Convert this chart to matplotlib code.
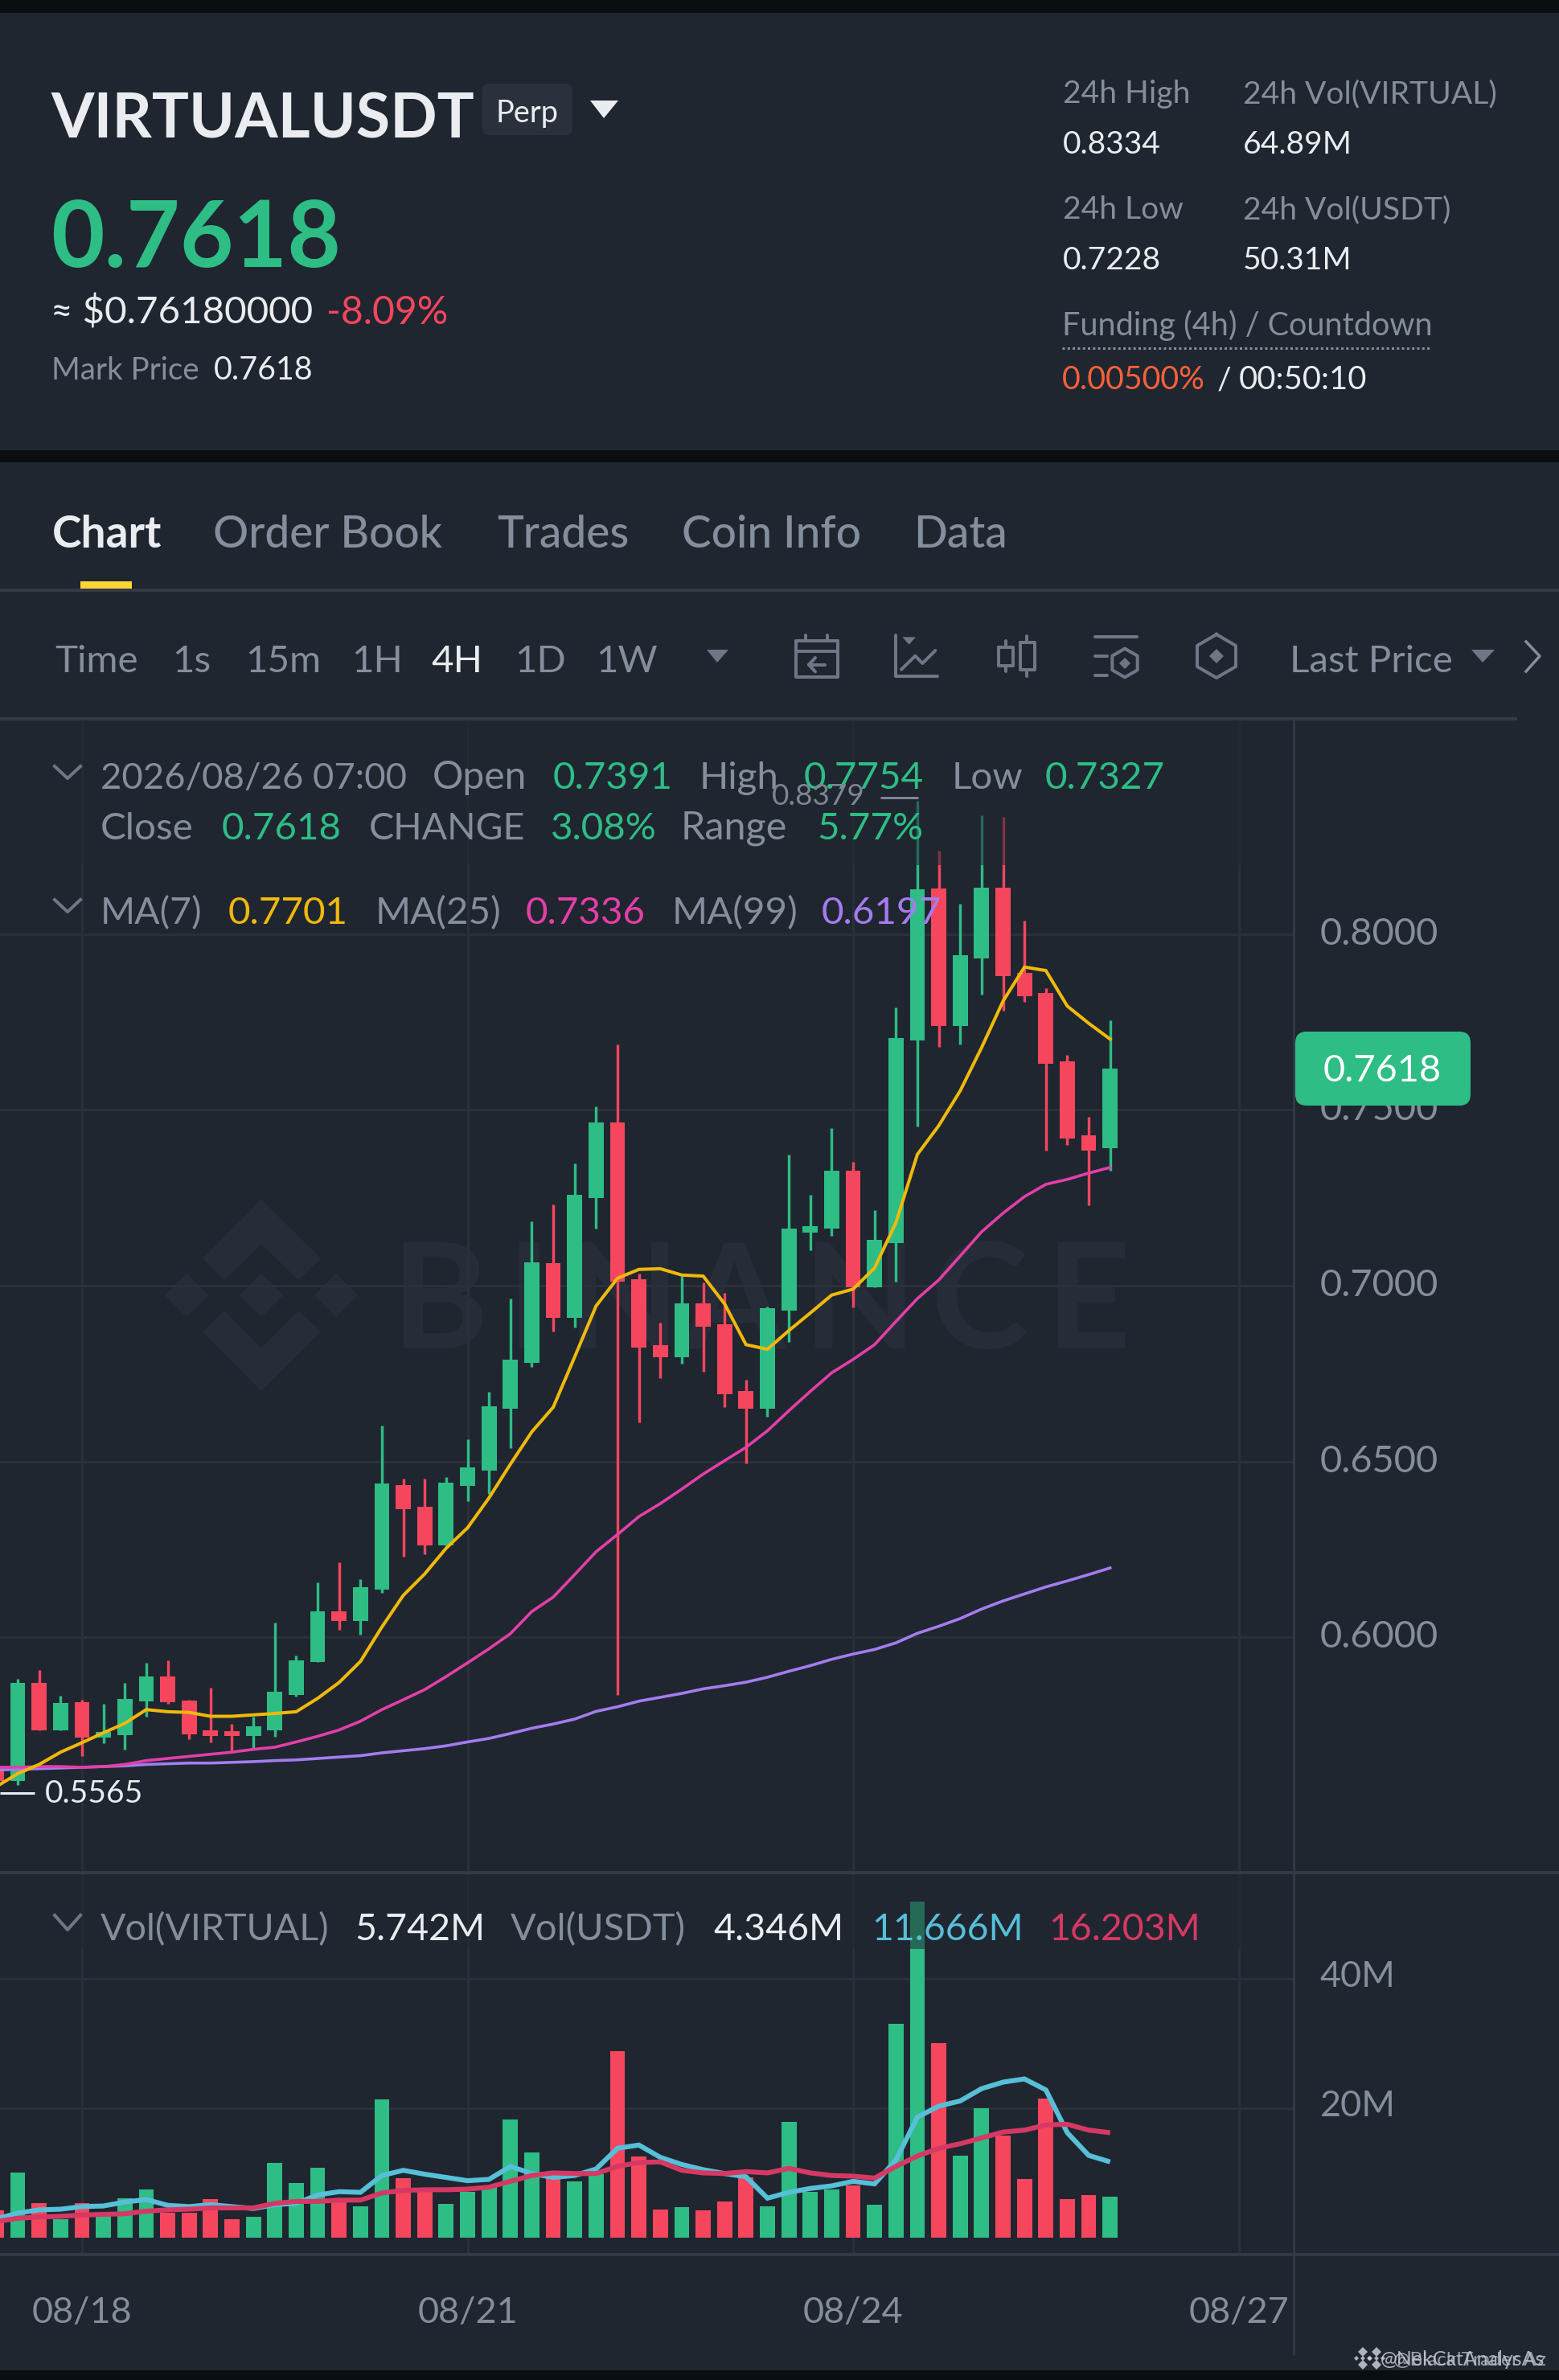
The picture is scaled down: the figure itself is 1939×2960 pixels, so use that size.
import matplotlib
matplotlib.use("Agg")
import matplotlib.pyplot as plt
from matplotlib.patches import Rectangle, FancyBboxPatch, Polygon
from matplotlib.transforms import ScaledTranslation

plt.rcParams['font.family'] = ['Lato', 'DejaVu Sans']

# ---------- data ----------
candle_index = list(range(-4, 49))
opens = [.5630, .5591, .5871, .5736, .5814, .5714, .5722, .5818, .5888, .5820, .5735, .5733, .5720, .5736, .5835,
         .5929, .6074, .6045, .6135, .6433, .6370, .6260, .6431, .6474, .6650, .6780, .7064, .6909, .7250, .7465,
         .7019, .6831, .6797, .6949, .6891, .6700, .6650, .6928, .7151, .7161, .7327, .6996, .7122, .7697, .8129,
         .7739, .7931, .8132, .7889, .7832, .7638, .7428, .7391]
highs = [.5650, .5882, .5906, .5833, .5822, .5810, .5869, .5927, .5935, .5822, .5857, .5753, .5773, .6041, .5947,
         .6157, .6213, .6164, .6601, .6450, .6450, .6456, .6564, .6699, .6964, .7183, .7230, .7348, .7510, .7685,
         .7035, .6894, .7027, .7010, .6980, .6733, .6941, .7373, .7258, .7447, .7352, .7214, .7792, .8379, .8238,
         .8087, .8337, .8332, .8037, .7845, .7656, .7481, .7754]
lows = [.5565, .5579, .5736, .5736, .5663, .5698, .5681, .5773, .5810, .5710, .5700, .5677, .5685, .5716, .5830,
        .5929, .6020, .6008, .6125, .6229, .6235, .6260, .6386, .6407, .6537, .6768, .6870, .6880, .7162, .5835,
        .6611, .6736, .6779, .6754, .6655, .6494, .6627, .6840, .7100, .7141, .6939, .6996, .7011, .7452, .7680,
        .7686, .7828, .7781, .7807, .7385, .7401, .7228, .7327]
closes = [.5590, .5871, .5736, .5812, .5714, .5730, .5824, .5888, .5814, .5724, .5718, .5718, .5747, .5845, .5935,
          .6074, .6045, .6143, .6437, .6364, .6260, .6439, .6482, .6656, .6789, .7066, .6909, .7258, .7463, .7011,
          .6823, .6797, .6950, .6884, .6692, .6649, .6935, .7163, .7168, .7327, .6996, .7129, .7705, .8128, .7739,
          .7939, .8131, .7881, .7823, .7630, .7418, .7385, .7618]
ma7 = [.5575, .5612, .5638, .5673, .5700, .5728, .5755, .5794, .5788, .5786, .5775, .5775, .5779, .5783, .5788,
       .5826, .5871, .5931, .6029, .6119, .6180, .6253, .6311, .6396, .6492, .6584, .6654, .6797, .6942, .7021,
       .7046, .7048, .7030, .7027, .6948, .6832, .6819, .6872, .6922, .6973, .6990, .7050, .7179, .7373, .7455,
       .7554, .7677, .7809, .7906, .7896, .7795, .7746, .7701]
ma25 = [.5630, .5630, .5632, .5632, .5630, .5632, .5638, .5649, .5655, .5661, .5667, .5673, .5681, .5687, .5702,
        .5718, .5736, .5761, .5794, .5822, .5851, .5888, .5927, .5967, .6010, .6073, .6114, .6178, .6243, .6292,
        .6343, .6380, .6421, .6464, .6502, .6540, .6587, .6644, .6699, .6752, .6790, .6832, .6898, .6963, .7016,
        .7084, .7153, .7206, .7253, .7288, .7302, .7320, .7336]
ma99 = [.5622, .5624, .5626, .5628, .5630, .5632, .5634, .5638, .5640, .5642, .5642, .5644, .5646, .5649, .5651,
        .5655, .5659, .5663, .5671, .5677, .5683, .5691, .5702, .5712, .5726, .5741, .5753, .5767, .5789, .5802,
        .5818, .5829, .5840, .5853, .5862, .5872, .5886, .5903, .5919, .5937, .5952, .5965, .5984, .6011, .6031,
        .6053, .6080, .6103, .6123, .6143, .6160, .6178, .6197]
volume = [4.2, 10.0, 5.4, 2.9, 5.4, 3.4, 6.1, 7.5, 3.9, 3.9, 5.9, 2.9, 3.2, 11.5, 8.4, 10.8, 5.9, 4.8, 21.4, 9.2,
          7.1, 5.2, 7.1, 7.8, 18.2, 13.1, 9.3, 8.7, 9.8, 28.8, 12.5, 4.4, 4.7, 4.2, 5.6, 9.3, 4.9, 17.9, 7.1, 7.4,
          8.1, 5.1, 33.0, 51.8, 30.0, 12.6, 20.0, 15.7, 9.0, 21.5, 6.0, 6.6, 6.3]
vol_ma_a = [2.9, 3.8, 4.3, 4.4, 4.8, 4.9, 5.5, 5.9, 5.0, 4.8, 5.1, 4.8, 4.5, 5.1, 5.3, 6.6, 7.1, 7.0, 9.6, 10.4,
            9.8, 9.3, 8.8, 9.0, 11.0, 9.9, 9.3, 9.6, 10.6, 13.8, 14.3, 12.4, 11.3, 10.5, 9.9, 9.4, 6.1, 7.0, 7.6,
            8.0, 8.7, 8.3, 12.0, 18.6, 20.3, 21.1, 23.0, 24.0, 24.5, 22.8, 16.2, 12.7, 11.7]
vol_ma_b = [2.5, 3.0, 3.2, 3.3, 3.5, 3.6, 3.7, 4.1, 4.3, 4.4, 4.6, 4.6, 4.6, 5.3, 5.6, 5.6, 5.8, 5.8, 6.9, 7.3,
            7.4, 7.4, 7.5, 7.8, 8.7, 9.6, 10.0, 9.9, 9.9, 11.0, 11.6, 11.7, 10.4, 10.0, 9.9, 10.2, 10.0, 10.7, 10.0,
            9.6, 9.5, 9.2, 11.0, 12.6, 13.8, 14.5, 15.4, 16.3, 16.6, 17.4, 17.5, 16.6, 16.2]
price_ticks = [0.60, 0.65, 0.70, 0.75, 0.80]
volume_ticks = [20, 40]
date_index = [0, 18, 36, 54]
date_labels = ['08/18', '08/21', '08/24', '08/27']

# ---------- style ----------
W, H = 1940, 2960
BLACK = '#0b0e11'
BG = '#1f2630'
GRID = '#2a303b'
SEP = '#333945'
GREEN = '#2ebd85'
RED = '#f6465d'
GREY = '#848e9c'
WHITE = '#eaecef'
YEL = '#f0b90b'
MAG = '#e33fa8'
PUR = '#a57cf0'
VBLUE = '#57bfd8'
VRED = '#d63864'
ICON = '#707686'
WM = '#272d38'
PX = 72 / 100  # points per pixel at dpi 100

fig = plt.figure(figsize=(W / 100, H / 100), dpi=100, facecolor=BLACK)


def full_axes(z):
    a = fig.add_axes([0, 0, 1, 1], zorder=z)
    a.set_xlim(0, W)
    a.set_ylim(H, 0)
    a.axis('off')
    a.patch.set_alpha(0)
    return a


back = full_axes(0)
fore = full_axes(10)


def T(x, y, s, em, color=GREY, weight='normal', ax=fore, ha='left', alpha=None):
    ax.text(x, y, s, fontsize=em * PX, color=color, fontweight=weight, ha=ha, va='baseline', alpha=alpha)


back.add_patch(Rectangle((0, 16), W, 544, fc=BG, ec='none'))
back.add_patch(Rectangle((0, 575), W, 2373, fc=BG, ec='none'))


def pane(top, bottom):
    return fig.add_axes([0, (H - bottom) / H, 1609 / W, (bottom - top) / H], zorder=5, facecolor='none')


ax = pane(894, 2330)
vx = pane(2330, 2804)
x0, xs = 102.0, 26.64
for a in (ax, vx):
    a.set_xlim(-x0 / xs, (1609 - x0) / xs)
    for s in a.spines.values():
        s.set_visible(False)
    a.set_axisbelow(True)
    a.grid(True, color=GRID, lw=3 * PX)
ax.set_ylim(0.5328, 0.8612)
vx.set_ylim(-2.6, 56.2)

# watermark
wm_top = [(325, 1492), (399, 1565), (371, 1592), (325, 1547), (279, 1592), (252, 1565)]
wm_bot = [(325, 1730), (399, 1656), (371, 1630), (325, 1677), (279, 1630), (252, 1656)]
back.add_patch(Polygon(wm_top, fc=WM, ec='none'))
back.add_patch(Polygon(wm_bot, fc=WM, ec='none'))
for cx in (232, 325, 418):
    back.add_patch(Polygon([(cx, 1584), (cx + 27, 1611), (cx, 1638), (cx - 27, 1611)], fc=WM, ec='none'))
for lx, ch in [(486, 'B'), (630, 'I'), (704, 'N'), (850, 'A'), (998, 'N'), (1158, 'C'), (1300, 'E')]:
    T(lx, 1677, ch, 183, WM, 'bold', ax=back)

# candles
cols = [GREEN if c >= o else RED for o, c in zip(opens, closes)]
ax.vlines(candle_index, lows, highs, colors=cols, lw=3.4 * PX, zorder=3)
ax.bar(candle_index, [abs(c - o) for o, c in zip(opens, closes)], bottom=[min(o, c) for o, c in zip(opens, closes)],
       width=0.705, color=cols, linewidth=0, zorder=4)
ax.plot(candle_index, ma99, color=PUR, lw=2.6, zorder=5, solid_joinstyle='miter')
ax.plot(candle_index, ma25, color=MAG, lw=2.6, zorder=6, solid_joinstyle='miter')
ax.plot(candle_index, ma7, color=YEL, lw=2.9, zorder=7, solid_joinstyle='miter')
ax.set_yticks(price_ticks)
ax.set_yticklabels([f'{v:.4f}' for v in price_ticks])
ax.yaxis.tick_right()
ax.tick_params(axis='y', length=0, pad=33 * PX, labelsize=47 * PX, labelcolor=GREY)
ax.set_xticks(date_index)
ax.tick_params(axis='x', length=0, labelbottom=False)

# volume
vx.bar(candle_index, volume, width=0.705, color=cols, linewidth=0, zorder=3)
vx.plot(candle_index, vol_ma_a, color=VBLUE, lw=4.4, zorder=4, solid_joinstyle='miter', solid_capstyle='butt')
vx.plot(candle_index, vol_ma_b, color=VRED, lw=4.4, zorder=5, solid_joinstyle='miter', solid_capstyle='butt')
vx.set_yticks(volume_ticks)
vx.set_yticklabels([f'{v}M' for v in volume_ticks])
vx.yaxis.tick_right()
vx.tick_params(axis='y', length=0, pad=33 * PX, labelsize=45 * PX, labelcolor=GREY)
vx.set_xticks(date_index)
vx.set_xticklabels(date_labels)
vx.tick_params(axis='x', length=0, pad=52 * PX, labelsize=45 * PX, labelcolor=GREY)

# the reference's axis labels sit a few pixels above their gridlines
for a, dy in ((ax, 4), (vx, 6)):
    for lab in a.get_yticklabels():
        lab.set_transform(lab.get_transform() + ScaledTranslation(0, dy / 100, fig.dpi_scale_trans))

# legend backdrops dim what is under them
fore.add_patch(Rectangle((0, 896), 1548, 180, fc=BG, ec='none', alpha=0.55))
fore.add_patch(Rectangle((0, 2332), 1548, 92, fc=BG, ec='none', alpha=0.55))

# separators
fore.plot([0, 1887], [894, 894], color=SEP, lw=4 * PX, solid_capstyle='butt')
fore.plot([0, W], [2329, 2329], color=SEP, lw=4 * PX, solid_capstyle='butt')
fore.plot([0, W], [2804, 2804], color=SEP, lw=4 * PX, solid_capstyle='butt')
fore.plot([1609, 1609], [894, 2929], color=SEP, lw=3 * PX, solid_capstyle='butt')
fore.plot([0, W], [734, 734], color=SEP, lw=4 * PX, solid_capstyle='butt')
fore.add_patch(Rectangle((100, 723), 64, 13, fc='#fcd535', ec='none'))

# header
T(63, 172, 'VIRTUALUSDT', 77, WHITE, 'bold')
fore.add_patch(FancyBboxPatch((606, 110), 100, 52, boxstyle='round,pad=6,rounding_size=8', fc='#2b313c', ec='none'))
T(617, 152, 'Perp', 38, WHITE)
fore.add_patch(Polygon([(734, 125), (769, 125), (751, 147)], fc=WHITE, ec='none', joinstyle='round'))
T(63, 332, '0.7618', 115, GREEN, 'bold')
T(63, 403, '≈ $0.76180000', 47.5, WHITE)
T(406, 403, '-8.09%', 48, RED)
T(64, 472, 'Mark Price', 38.5, GREY)
T(266, 472, '0.7618', 39.5, WHITE)

HDR = 39
T(1322, 128, '24h High', HDR)
T(1546, 128, '24h Vol(VIRTUAL)', HDR)
T(1322, 191, '0.8334', HDR, WHITE)
T(1546, 191, '64.89M', HDR, WHITE)
T(1322, 272, '24h Low', HDR)
T(1546, 272, '24h Vol(USDT)', HDR)
T(1322, 335, '0.7228', HDR, WHITE)
T(1546, 335, '50.31M', HDR, WHITE)
T(1321, 417, 'Funding (4h) / Countdown', 39.6)
fore.plot([1321, 1779], [433, 433], color=GREY, lw=3 * PX, dashes=(1, 1.1))
T(1321, 484, '0.00500%', 39.5, '#f6613a')
T(1514, 484, '/', 39, WHITE)
T(1541, 484, '00:50:10', 40, WHITE)

# tabs
for x, s, c in [(65, 'Chart', WHITE), (265, 'Order Book', GREY), (618, 'Trades', GREY),
                (848, 'Coin Info', GREY), (1136, 'Data', GREY)]:
    T(x, 681, s, 55, c, 'bold' if s == 'Chart' else 'medium')

# toolbar
for x, s, c in [(68, 'Time', GREY), (214, '1s', GREY), (305, '15m', GREY), (437, '1H', GREY), (536, '4H', WHITE),
                (640, '1D', GREY), (741, '1W', GREY), (1604, 'Last Price', GREY)]:
    T(x, 836, s, 47.5, c)
fore.add_patch(Polygon([(879, 808), (906, 808), (892, 824)], fc=ICON, ec='none'))
fore.add_patch(Polygon([(1830, 808), (1859, 808), (1844, 824)], fc=ICON, ec='none'))
fore.plot([1898, 1915, 1898], [798, 816, 835], color=GREY, lw=3.5 * PX)


def ipx(x, y):
    return 950 + x / 3, 760 + y / 3


def iline(pts, lw=4):
    xy = [ipx(*p) for p in pts]
    fore.plot([p[0] for p in xy], [p[1] for p in xy], color=ICON, lw=lw * PX, solid_capstyle='round',
              solid_joinstyle='round')


iline([(120, 112), (276, 112), (276, 246), (120, 246), (120, 112)])
iline([(120, 150), (276, 150)])
iline([(157, 90), (157, 112)])
iline([(238, 90), (238, 112)])
iline([(228, 200), (168, 200)])
iline([(192, 174), (168, 200), (192, 226)])
iline([(493, 90), (493, 244), (648, 244)])
fore.add_patch(Polygon([ipx(517, 97), ipx(567, 97), ipx(542, 125)], fc=ICON, ec='none'))
iline([(513, 218), (565, 167), (592, 195), (640, 147)])
iline([(876, 135), (930, 135), (930, 205), (876, 205), (876, 135)])
iline([(902, 110), (902, 135)])
iline([(902, 205), (902, 226)])
iline([(956, 116), (1010, 116), (1010, 218), (956, 218), (956, 116)])
iline([(982, 94), (982, 116)])
iline([(982, 218), (982, 243)])
iline([(1236, 96), (1392, 96)])
iline([(1236, 167), (1280, 167)])
iline([(1236, 239), (1280, 239)])
iline([(1347, 140), (1394, 167), (1394, 220), (1347, 247), (1300, 220), (1300, 167), (1347, 140)])
fore.add_patch(Polygon([ipx(1347, 174), ipx(1368, 195), ipx(1347, 216), ipx(1326, 195)], fc=ICON, ec='none'))
fore.plot([1513, 1537, 1537, 1513, 1489, 1489, 1513], [789, 803, 829, 843, 829, 803, 789], color=ICON, lw=4 * PX)
fore.add_patch(Polygon([(1513, 807), (1522, 816), (1513, 825), (1504, 816)], fc=ICON, ec='none'))

# legends
T(125, 981, '2026/08/26 07:00', 45.5)
T(538, 981, 'Open', 48)
T(688, 981, '0.7391', 47.5, GREEN)
T(870, 981, 'High', 47.5)
T(1000, 981, '0.7754', 47.5, GREEN)
T(1184, 981, 'Low', 47.5)
T(1300, 981, '0.7327', 47.5, GREEN)
T(125, 1044, 'Close', 47.5)
T(276, 1044, '0.7618', 47.5, GREEN)
T(459, 1044, 'CHANGE', 46.5)
T(685, 1044, '3.08%', 47.5, GREEN)
T(847, 1044, 'Range', 48.5)
T(1016, 1044, '5.77%', 47.5, GREEN)
T(125, 1149, 'MA(7)', 46.5)
T(284, 1149, '0.7701', 47.5, YEL)
T(467, 1149, 'MA(25)', 47.5)
T(654, 1149, '0.7336', 47.5, MAG)
T(836, 1149, 'MA(99)', 47.5)
T(1022, 1149, '0.6197', 47.5, PUR)
T(125, 2413, 'Vol(VIRTUAL)', 46.5)
T(441, 2413, '5.742M', 46.5, WHITE)
T(635, 2413, 'Vol(USDT)', 47)
T(887, 2413, '4.346M', 46.5, WHITE)
T(1084, 2413, '11.666M', 46.5, VBLUE)
T(1304, 2413, '16.203M', 46.5, VRED)
for yy in (953, 1119):
    fore.plot([68, 84, 100], [yy, yy + 15, yy], color=ICON, lw=4 * PX)
fore.plot([68, 84, 100], [2382, 2400, 2382], color=ICON, lw=4 * PX)

# extreme labels
T(960, 1001, '0.8379', 37, '#7e8592')
fore.plot([1095, 1142], [992, 992], color='#7e8592', lw=3 * PX, solid_capstyle='butt')
T(56, 2242, '0.5565', 39, WHITE)
fore.plot([0, 43], [2230, 2230], color=WHITE, lw=3 * PX, solid_capstyle='butt')

# last price tag
fore.add_patch(FancyBboxPatch((1623, 1295), 194, 68, boxstyle='round,pad=12,rounding_size=14', fc=GREEN, ec='none'))
T(1646, 1345, '0.7618', 47, '#ffffff')

# footer watermark: two stamps lying on top of each other
T(1717, 2942, '@NekCatAnalysAs', 25, '#c4c7cd', alpha=0.85)
T(1733, 2942, '@Black Trader Az', 24.5, '#c4c7cd', alpha=0.75)
for cx in (1695, 1712):
    for dx, dy, r in [(0, -8, 6), (-8, 0, 3), (0, 0, 3), (8, 0, 3), (0, 8, 6)]:
        c = (cx + dx, 2933 + dy)
        fore.add_patch(Polygon([(c[0], c[1] - r), (c[0] + r, c[1]), (c[0], c[1] + r), (c[0] - r, c[1])],
                               fc='#d5d7dc', ec='none', alpha=0.8))

fig.savefig('out.png', dpi=100, facecolor=BLACK)
